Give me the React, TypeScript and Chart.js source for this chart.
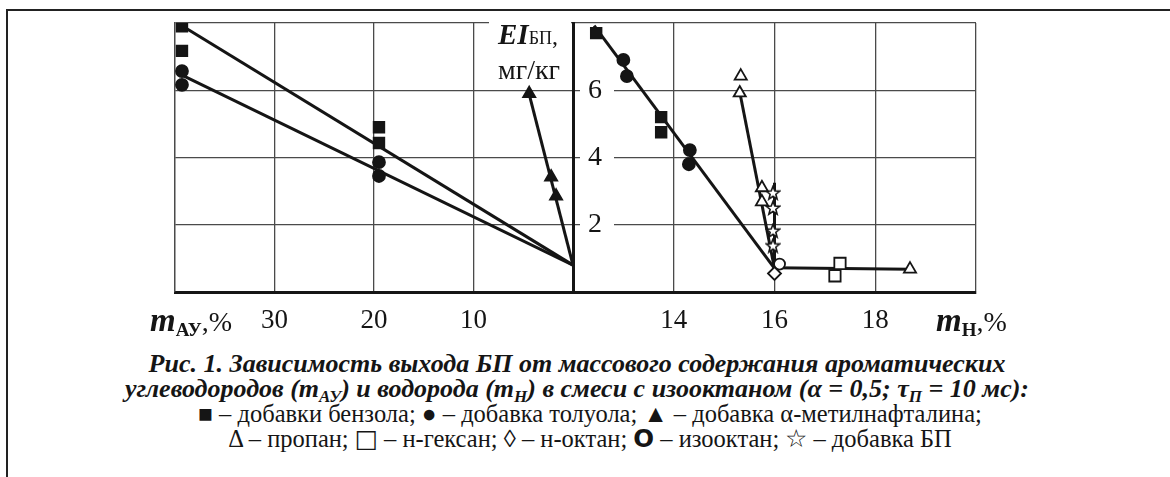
import React, { useEffect, useRef } from "react";
import { Chart, registerables } from "chart.js";
Chart.register(...registerables);

// ---------- Left panel: m_AY, % (axis reversed: 40 ... 0) ----------
const leftTickLabels = [30, 20, 10];
const benzeneAY_x = [39.3, 39.3, 19.5, 19.5];
const benzeneAY_y = [7.9, 7.17, 4.9, 4.43];
const tolueneAY_x = [39.3, 39.3, 19.5, 19.5];
const tolueneAY_y = [6.57, 6.16, 3.86, 3.45];
const methylnaphAY_x = [4.4, 2.2, 1.7];
const methylnaphAY_y = [5.9, 3.42, 2.85];
const benzeneFitAY_x = [39.3, 0];
const benzeneFitAY_y = [7.92, 0.8];
const tolueneFitAY_x = [39.3, 0];
const tolueneFitAY_y = [6.45, 0.8];
const methylnaphFitAY_x = [4.4, 0];
const methylnaphFitAY_y = [5.88, 0.8];

// ---------- Right panel: m_H, % ----------
const rightTickLabels = [14, 16, 18];
const yTickLabels = [2, 4, 6];
const benzeneH_x = [12.46, 13.75, 13.75];
const benzeneH_y = [7.7, 5.2, 4.75];
const tolueneH_x = [13.0, 13.07, 14.32, 14.3];
const tolueneH_y = [6.9, 6.42, 4.22, 3.8];
const propaneH_x = [15.33, 15.31, 15.75, 15.75, 18.69];
const propaneH_y = [6.42, 5.92, 3.1, 2.68, 0.68];
const hexaneH_x = [17.3, 17.2];
const hexaneH_y = [0.85, 0.48];
const octaneH_x = [16.0];
const octaneH_y = [0.55];
const isooctaneH_x = [16.1];
const isooctaneH_y = [0.83];
const bpH_x = [15.97, 15.97, 15.97, 15.97];
const bpH_y = [2.95, 2.5, 1.82, 1.38];
const aromFitH_x = [12.42, 16.0];
const aromFitH_y = [7.92, 0.7];
const propaneFitH_x = [15.31, 16.0];
const propaneFitH_y = [5.95, 0.7];
const bpFitH_x = [16.0, 16.0];
const bpFitH_y = [3.25, 0.7];
const paraffinFitH_x = [16.0, 18.69];
const paraffinFitH_y = [0.72, 0.68];

const INK = "#151515";
const GRID = "#4a4a4a";
const SERIF = "'Liberation Serif', 'Times New Roman', serif";

const pts = (xs: number[], ys: number[]) => xs.map((x, i) => ({ x, y: ys[i] }));

function markers(xs: number[], ys: number[], style: any, radius: number, fill: string) {
  return {
    type: "scatter" as const,
    data: pts(xs, ys),
    pointStyle: style,
    pointRadius: radius,
    pointHoverRadius: radius,
    backgroundColor: fill,
    borderColor: INK,
    pointBorderWidth: 1.8,
    showLine: false,
  };
}

function fitLine(xs: number[], ys: number[]) {
  return {
    type: "line" as const,
    data: pts(xs, ys),
    borderColor: INK,
    borderWidth: 3,
    pointRadius: 0,
    fill: false,
    tension: 0,
  };
}

function makeStar(): HTMLCanvasElement {
  const c = document.createElement("canvas");
  c.width = 16;
  c.height = 16;
  const ctx = c.getContext("2d")!;
  ctx.beginPath();
  for (let i = 0; i < 10; i++) {
    const r = i % 2 === 0 ? 7 : 3;
    const a = -Math.PI / 2 + (i * Math.PI) / 5;
    const px = 8 + r * Math.cos(a);
    const py = 8.5 + r * Math.sin(a);
    if (i === 0) ctx.moveTo(px, py);
    else ctx.lineTo(px, py);
  }
  ctx.closePath();
  ctx.fillStyle = "#fff";
  ctx.fill();
  ctx.lineWidth = 1.6;
  ctx.strokeStyle = INK;
  ctx.stroke();
  return c;
}

const zeroW = (s: any) => {
  s.width = 0;
  s.paddingTop = 0;
  s.paddingBottom = 0;
};

function xScale(min: number, max: number, reverse: boolean, labels: number[]) {
  return {
    type: "linear" as const,
    position: "bottom" as const,
    min,
    max,
    reverse,
    afterBuildTicks: (s: any) => {
      const t = [];
      for (let v = min; v <= max + 1e-9; v += (max - min) / 4) t.push({ value: v });
      s.ticks = t;
    },
    afterFit: (s: any) => {
      s.height = 50;
      s.paddingLeft = 0;
      s.paddingRight = 0;
    },
    ticks: {
      padding: 13,
      maxRotation: 0,
      autoSkip: false,
      color: INK,
      font: { family: SERIF, size: 27 },
      callback: (v: any) => (labels.includes(Number(v)) ? String(v) : ""),
    },
    grid: { color: GRID, lineWidth: 1.3, drawTicks: false },
    border: { color: INK, width: 3 },
  };
}

function yGridScale(borderColor: string, borderWidth: number) {
  return {
    type: "linear" as const,
    position: "left" as const,
    min: 0,
    max: 8,
    afterBuildTicks: (s: any) => {
      s.ticks = [0, 2, 4, 6, 8].map((v) => ({ value: v }));
    },
    afterFit: zeroW,
    ticks: { display: false },
    grid: { color: GRID, lineWidth: 1.3, drawTicks: false },
    border: { color: borderColor, width: borderWidth },
  };
}

function LeftChart() {
  const ref = useRef<HTMLCanvasElement>(null);
  useEffect(() => {
    const chart = new Chart(ref.current!, {
      type: "scatter",
      data: {
        datasets: [
          markers(benzeneAY_x, benzeneAY_y, "rect", 7.5, INK),
          markers(tolueneAY_x, tolueneAY_y, "circle", 6, INK),
          markers(methylnaphAY_x, methylnaphAY_y, "triangle", 7, INK),
          fitLine(benzeneFitAY_x, benzeneFitAY_y),
          fitLine(tolueneFitAY_x, tolueneFitAY_y),
          fitLine(methylnaphFitAY_x, methylnaphFitAY_y),
        ] as any,
      },
      options: {
        animation: false,
        responsive: false,
        events: [],
        layout: { padding: { left: 15, right: 10, top: 10, bottom: 0 } },
        plugins: { legend: { display: false }, tooltip: { enabled: false } },
        scales: {
          x: xScale(0, 40, true, leftTickLabels),
          y: yGridScale(GRID, 1.3),
        } as any,
      },
    });
    return () => chart.destroy();
  }, []);
  return (
    <canvas
      ref={ref}
      width={423}
      height={329}
      style={{ position: "absolute", left: 160, top: 13, width: 423, height: 329 }}
    />
  );
}

function RightChart() {
  const ref = useRef<HTMLCanvasElement>(null);
  useEffect(() => {
    const star = makeStar();
    const chart = new Chart(ref.current!, {
      type: "scatter",
      data: {
        datasets: [
          markers(benzeneH_x, benzeneH_y, "rect", 7.5, INK),
          markers(tolueneH_x, tolueneH_y, "circle", 6, INK),
          markers(octaneH_x, octaneH_y, "rectRot", 6.5, "#fff"),
          markers(isooctaneH_x, isooctaneH_y, "circle", 5.5, "#fff"),
          markers(hexaneH_x, hexaneH_y, "rect", 8, "#fff"),
          markers(propaneH_x, propaneH_y, "triangle", 7, "#fff"),
          markers(bpH_x, bpH_y, star, 8, "#fff"),
          fitLine(aromFitH_x, aromFitH_y),
          fitLine(propaneFitH_x, propaneFitH_y),
          fitLine(bpFitH_x, bpFitH_y),
          fitLine(paraffinFitH_x, paraffinFitH_y),
        ] as any,
      },
      options: {
        animation: false,
        responsive: false,
        events: [],
        layout: { padding: { left: 10, right: 10, top: 10, bottom: 0 } },
        plugins: { legend: { display: false }, tooltip: { enabled: false } },
        scales: {
          x: xScale(12, 20, false, rightTickLabels),
          y: yGridScale(INK, 3),
          yLabels: {
            type: "linear",
            position: "left",
            min: 0,
            max: 8,
            afterBuildTicks: (s: any) => {
              s.ticks = yTickLabels.map((v) => ({ value: v }));
            },
            afterFit: zeroW,
            grid: { display: false, drawTicks: false },
            border: { display: false },
            ticks: {
              mirror: true,
              padding: 15,
              color: INK,
              font: { family: SERIF, size: 28 },
              showLabelBackdrop: true,
              backdropColor: "#fff",
              backdropPadding: { left: 8, right: 12, top: 0, bottom: 0 },
            },
          },
        } as any,
      },
    });
    return () => chart.destroy();
  }, []);
  return (
    <canvas
      ref={ref}
      width={423}
      height={329}
      style={{ position: "absolute", left: 563, top: 13, width: 423, height: 329 }}
    />
  );
}

export default function App() {
  const boldItalic: React.CSSProperties = { fontWeight: "bold", fontStyle: "italic" };
  const capSub: React.CSSProperties = { fontSize: 17, lineHeight: 0, verticalAlign: "-5px" };
  return (
    <div
      style={{
        position: "absolute",
        left: 0,
        top: 0,
        width: 1170,
        height: 477,
        background: "#fff",
        overflow: "hidden",
        fontFamily: SERIF,
        color: INK,
      }}
    >
      {/* frame */}
      <div style={{ position: "absolute", left: 6, top: 9, width: 1164, height: 2, background: "#222" }} />
      <div style={{ position: "absolute", left: 6, top: 9, width: 2, height: 468, background: "#222" }} />

      <LeftChart />
      <RightChart />

      {/* y-axis title: white box interrupts the top border */}
      <div
        style={{
          position: "absolute",
          left: 489,
          top: 14,
          width: 82,
          height: 70,
          background: "#fff",
        }}
      />
      <div
        style={{
          position: "absolute",
          left: 498,
          top: 19,
          whiteSpace: "nowrap",
          lineHeight: "30px",
        }}
      >
        <span style={{ ...boldItalic, fontSize: 29 }}>EI</span>
        <span style={{ fontSize: 18 }}>БП</span>
        <span style={{ fontSize: 24 }}>,</span>
      </div>
      <div
        style={{
          position: "absolute",
          left: 498,
          top: 55,
          fontSize: 28,
          lineHeight: "30px",
          whiteSpace: "nowrap",
        }}
      >
        мг/кг
      </div>

      {/* x-axis titles */}
      <div style={{ position: "absolute", left: 150, top: 302, whiteSpace: "nowrap", fontSize: 28 }}>
        <span style={{ ...boldItalic, fontSize: 33 }}>m</span>
        <span style={{ fontWeight: "bold", fontSize: 19, position: "relative", top: 5 }}>АУ</span>
        <span>,%</span>
      </div>
      <div
        style={{
          position: "absolute",
          left: 936,
          top: 302,
          width: 74,
          overflow: "hidden",
          whiteSpace: "nowrap",
          fontSize: 28,
        }}
      >
        <span style={{ ...boldItalic, fontSize: 33 }}>m</span>
        <span style={{ fontWeight: "bold", fontSize: 19, position: "relative", top: 5 }}>Н</span>
        <span>,%</span>
      </div>

      {/* caption */}
      <div
        style={{
          position: "absolute",
          left: 0,
          top: 351,
          width: 1154,
          textAlign: "center",
          ...boldItalic,
          fontSize: 26,
          lineHeight: "25px",
          whiteSpace: "nowrap",
        }}
      >
        <div>Рис. 1. Зависимость выхода БП от массового содержания ароматических</div>
        <div>
          углеводородов (m<sub style={capSub}>АУ</sub>) и водорода (m<sub style={capSub}>Н</sub>) в смеси с
          изооктаном (α = 0,5; τ<sub style={capSub}>П</sub> = 10 мс):
        </div>
      </div>
      <div
        style={{
          position: "absolute",
          left: 0,
          top: 402,
          width: 1180,
          textAlign: "center",
          fontSize: 24.5,
          lineHeight: "24.5px",
          whiteSpace: "nowrap",
        }}
      >
        <div>■ – добавки бензола; ● – добавка толуола; ▲ – добавка α-метилнафталина;</div>
        <div>
          Δ – пропан; <b style={{ fontFamily: "'DejaVu Sans'" }}>□</b> – н-гексан; ◊ – н-октан;{" "}
          <b style={{ fontFamily: "'DejaVu Sans'" }}>O</b> – изооктан; ☆ – добавка БП
        </div>
      </div>
    </div>
  );
}
